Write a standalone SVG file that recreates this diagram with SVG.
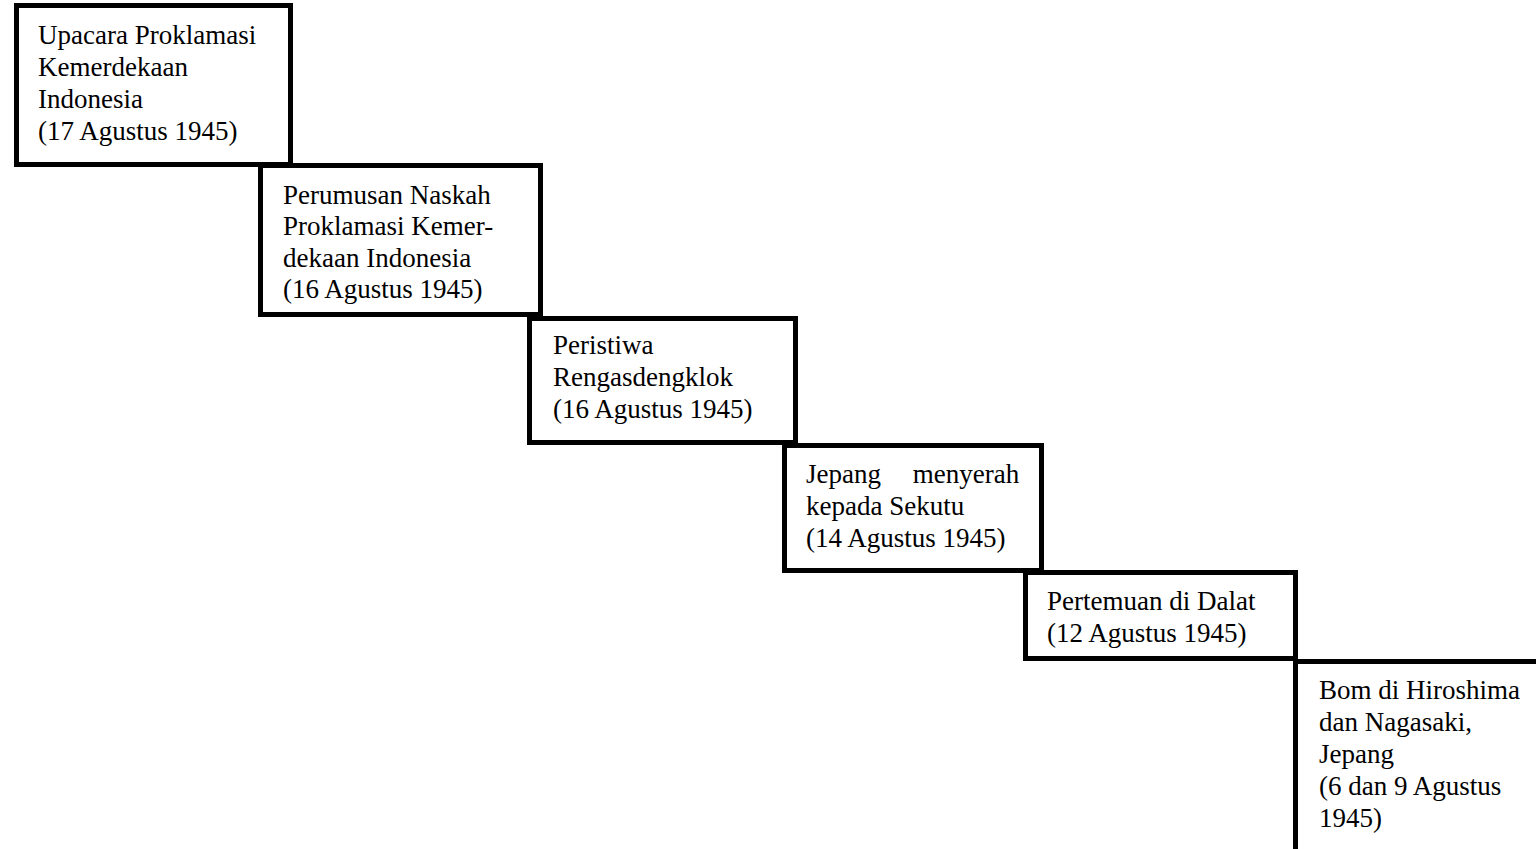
<svg xmlns="http://www.w3.org/2000/svg" width="1536" height="849" viewBox="0 0 1536 849">
<style>
  .box { fill: none; stroke: #000; stroke-width: 5; }
  .t { font-family: "Liberation Serif", "Times New Roman", serif; font-size: 27px; fill: #000; }
</style>
<rect x="0" y="0" width="1536" height="849" fill="#fff"/>
<g id="node1">
  <rect class="box" x="16.5" y="5.5" width="274" height="159"/>
  <text class="t"><tspan x="38" y="44">Upacara Proklamasi</tspan><tspan x="38" y="76">Kemerdekaan</tspan><tspan x="38" y="108">Indonesia</tspan><tspan x="38" y="140">(17 Agustus 1945)</tspan></text>
</g>
<g id="node2">
  <rect class="box" x="260.5" y="165.5" width="280" height="149"/>
  <text class="t"><tspan x="283" y="204">Perumusan Naskah</tspan><tspan x="283" y="235">Proklamasi Kemer-</tspan><tspan x="283" y="267">dekaan Indonesia</tspan><tspan x="283" y="298">(16 Agustus 1945)</tspan></text>
</g>
<g id="node3">
  <rect class="box" x="529.5" y="318.5" width="266" height="124"/>
  <text class="t"><tspan x="553" y="354">Peristiwa</tspan><tspan x="553" y="386">Rengasdengklok</tspan><tspan x="553" y="418">(16 Agustus 1945)</tspan></text>
</g>
<g id="node4">
  <rect class="box" x="784.5" y="445.5" width="257" height="125"/>
  <text class="t"><tspan x="806" y="483" word-spacing="25">Jepang menyerah</tspan><tspan x="806" y="515">kepada Sekutu</tspan><tspan x="806" y="547">(14 Agustus 1945)</tspan></text>
</g>
<g id="node5">
  <rect class="box" x="1025.5" y="572.5" width="270" height="86"/>
  <text class="t"><tspan x="1047" y="610">Pertemuan di Dalat</tspan><tspan x="1047" y="642">(12 Agustus 1945)</tspan></text>
</g>
<g id="node6">
  <rect class="box" x="1295.5" y="661.5" width="300" height="300"/>
  <text class="t"><tspan x="1319" y="699">Bom di Hiroshima</tspan><tspan x="1319" y="731">dan Nagasaki,</tspan><tspan x="1319" y="763">Jepang</tspan><tspan x="1319" y="795">(6 dan 9 Agustus</tspan><tspan x="1319" y="827">1945)</tspan></text>
</g>
</svg>
